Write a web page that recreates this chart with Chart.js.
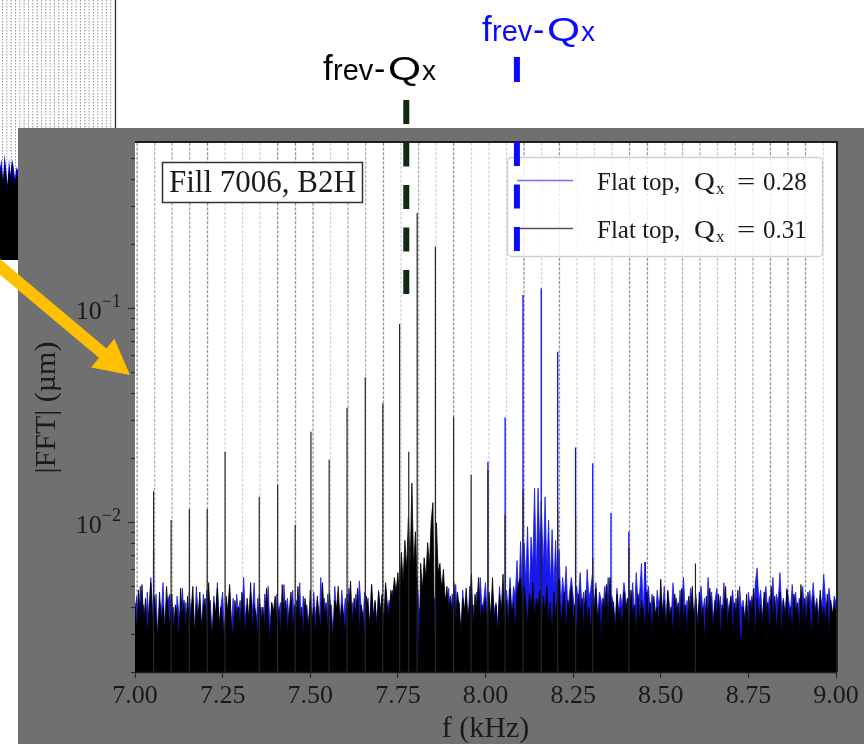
<!DOCTYPE html>
<html><head><meta charset="utf-8">
<script src="https://cdn.jsdelivr.net/npm/chart.js@4.4.1/dist/chart.umd.min.js"></script>
<style>html,body{margin:0;padding:0;background:#fff;overflow:hidden}canvas{display:block}</style>
</head><body>
<canvas id="c" width="864" height="744"></canvas>
<script>
// ---------------- DATA ----------------
// FFT bins (kHz) start and width; noise amplitudes in units of 1e-4 µm
const binStartKHz = 7.0;
const binWidthKHz = 0.005;
const noiseUnit = 1e-4;

// Flat top, Qx = 0.31 (black) noise floor, 401 bins 7.000..9.000 kHz
const blackNoise = [
42,30,48,35,51,33,44,29,39,52,31,45,36,28,47,34,40,31,50,37,
33,46,29,41,38,27,49,35,43,30,45,32,38,50,29,41,36,47,31,39,
44,30,52,36,28,42,37,49,32,40,35,27,45,38,51,33,29,43,36,40,
31,47,38,29,44,35,52,30,41,37,28,46,34,40,31,49,36,27,42,38,
45,32,39,28,51,36,43,30,38,47,29,41,35,50,33,40,28,44,37,31,
48,34,40,29,45,37,31,52,36,42,30,47,35,28,43,39,50,33,41,36,
29,46,38,53,32,44,36,49,30,41,37,28,45,40,33,51,35,43,31,47,
38,46,33,52,40,36,48,44,55,47,58,44,72,52,82,60,105,62,152,60,
90,52,20,64,48,68,55,80,62,100,123,22,99,58,64,48,60,42,50,38,
45,36,52,33,47,40,30,44,38,49,35,42,57,31,46,39,55,34,41,37,
44,30,47,36,55,33,41,29,46,38,57,35,43,31,49,37,42,30,47,52,
55,38,50,42,33,46,39,52,35,44,40,48,31,45,37,50,34,42,29,47,
36,44,54,32,40,47,30,43,38,50,33,41,29,46,37,44,31,48,35,40,
30,45,37,49,33,41,28,44,38,51,32,55,36,42,29,46,35,40,31,47,
38,44,30,48,36,41,29,46,34,43,39,31,47,35,42,28,45,37,40,33,
54,36,43,30,48,35,40,28,46,37,42,31,49,34,41,29,45,36,50,32,
44,30,47,36,40,27,45,33,49,38,31,43,35,46,28,41,37,50,32,39,
45,29,42,35,48,31,26,40,34,46,30,43,37,49,28,44,35,41,32,47,
36,42,29,50,34,45,31,39,47,28,43,35,48,33,40,30,46,37,42,29,
51,34,44,31,47,38,29,45,36,42,30,48,35,40,33,46,28,43,37,41,
38];

// Flat top, Qx = 0.28 (blue) noise floor, 401 bins
const blueNoise = [
38,45,30,50,36,41,28,47,34,55,40,32,46,29,43,37,52,31,39,44,
46,33,40,28,45,38,31,49,35,42,29,47,36,44,30,50,37,41,33,46,
31,48,37,43,29,45,35,52,33,40,47,30,42,36,49,32,44,28,46,38,
43,33,55,36,41,29,47,38,52,31,44,35,40,28,46,37,50,32,42,36,
30,46,38,42,29,51,36,44,33,40,48,31,43,35,52,30,45,38,41,34,
40,32,47,36,43,29,55,38,44,31,46,35,41,30,50,37,43,33,48,36,
44,31,49,37,42,30,46,35,53,40,32,47,38,44,30,51,36,42,34,48,
37,45,31,50,39,43,35,48,42,38,52,45,40,48,36,44,50,41,38,46,
42,55,40,36,48,45,38,50,42,46,40,44,39,47,41,52,36,45,40,49,
33,46,38,51,35,42,29,48,37,44,32,50,38,41,30,47,36,55,39,43,
52,35,45,30,47,38,42,33,50,36,44,31,48,39,55,37,50,45,66,42,
81,48,80,52,95,45,85,62,144,55,144,75,110,60,131,58,102,50,92,48,
82,45,74,40,55,44,62,38,47,55,45,38,50,42,58,40,47,36,60,44,
48,57,40,52,36,47,43,38,50,41,55,37,45,42,33,49,38,46,40,52,
44,36,48,40,52,35,58,42,47,64,38,65,44,50,37,46,41,35,48,40,
45,38,50,34,47,41,36,52,39,44,33,48,40,55,37,43,35,49,41,38,
46,35,42,50,38,44,33,55,40,47,36,43,49,38,45,34,52,39,44,37,
41,48,36,44,30,50,39,43,35,25,47,40,45,38,52,61,42,48,36,44,
50,38,45,41,55,37,46,42,58,40,44,36,49,43,38,51,40,47,35,44,
42,50,38,45,36,48,41,52,39,44,37,46,40,57,43,38,49,41,36,45,
42];

// Narrow lines (kHz, µm)
const blackSpikeF = [7.053,7.103,7.155,7.206,7.257,7.3545,7.407,7.457,7.502,7.554,7.605,7.657,7.707,7.755,7.781,7.805,7.857,7.909,7.959,8.007,8.056,8.107,8.159,8.206,8.257,8.306,8.409,8.599];
const blackSpikeA = [0.0139,0.0102,0.0115,0.0115,0.0213,0.0131,0.0149,0.0097,0.0264,0.0196,0.0342,0.0474,0.0359,0.0841,0.0213,0.278,0.193,0.031,0.0166,0.0175,0.0108,0.0141,0.0125,0.0114,0.0108,0.0068,0.0076,0.0064];
const blueSpikeF = [7.053,8.007,8.056,8.107,8.159,8.206,8.257,8.306,8.358,8.409,8.456];
const blueSpikeA = [0.0074,0.0191,0.0308,0.115,0.1236,0.0625,0.0223,0.0188,0.011,0.009,0.0065];

// 50 Hz harmonic reference lines (kHz)
const harmonicF = [7.006,7.056,7.106,7.156,7.207,7.257,7.307,7.357,7.407,7.458,
7.508,7.558,7.608,7.658,7.709,7.759,7.809,7.859,7.909,7.960,
8.010,8.060,8.110,8.160,8.211,8.261,8.311,8.361,8.411,8.462,
8.512,8.562,8.612,8.662,8.713,8.763,8.813,8.863,8.913,8.964];

// marked tune lines (kHz)
const tuneLineBlackF = 7.774;
const tuneLineBlueF = 8.0896;

// axes
const xMin = 7.0, xMax = 9.0;
const yMin = 0.00199, yMax = 0.59;
const xTickValues = [7.00,7.25,7.50,7.75,8.00,8.25,8.50,8.75,9.00];
const yTickValues = [0.1, 0.01];
const seriesQ = ['0.28', '0.31'];

// ---------------- STYLE ----------------
const harmonicShade = [0.55,0.38,0.42,0.45,0.55,0.22,0.22,0.22,0.55,0.55,
0.5,0.22,0.4,0.4,0.55,0.22,0.4,0.22,0.55,0.22,
0.22,0.22,0.55,0.22,0.55,0.22,0.22,0.25,0.55,0.55,
0.35,0.4,0.4,0.3,0.4,0.4,0.55,0.55,0.55,0.2];
const SERIF = '"Liberation Serif", "Times New Roman", serif';
const SANS = '"Liberation Sans", Arial, sans-serif';

const noisePts = arr => arr.map((v, i) => ({x: binStartKHz + i * binWidthKHz, y: v * noiseUnit}));
const spikePts = (F, A) => {
  const out = [];
  F.forEach((f, i) => { out.push({x: f, y: yMin}, {x: f, y: A[i]}, {x: f, y: null}); });
  return out;
};

const deco = {
  id: 'deco',
  beforeDraw(chart) {
    const ctx = chart.ctx, ca = chart.chartArea;
    ctx.save();
    ctx.fillStyle = '#fff'; ctx.fillRect(0, 0, 864, 744);
    // partially hidden plot behind (top-left)
    ctx.strokeStyle = 'rgba(110,110,110,0.75)'; ctx.lineWidth = 1; ctx.setLineDash([1.5, 1.5]);
    for (let x = 2.5; x < 113; x += 4.33) { ctx.beginPath(); ctx.moveTo(x, 0); ctx.lineTo(x, 260); ctx.stroke(); }
    ctx.setLineDash([]);
    ctx.strokeStyle = '#333'; ctx.lineWidth = 1.3;
    ctx.beginPath(); ctx.moveTo(115.5, 0); ctx.lineTo(115.5, 260); ctx.stroke();
    const tops = [172,160,178,158,168,182,163,175,157,170,179,165,174];
    ctx.fillStyle = '#0000e0';
    ctx.beginPath(); ctx.moveTo(0, 260);
    tops.forEach((t, i) => ctx.lineTo(i * 1.5, t - 4 + (i % 3) * 3));
    ctx.lineTo(18, 260); ctx.closePath(); ctx.fill();
    ctx.fillStyle = '#000';
    ctx.beginPath(); ctx.moveTo(0, 260);
    tops.forEach((t, i) => ctx.lineTo(i * 1.5, t + 6));
    ctx.lineTo(18, 260); ctx.closePath(); ctx.fill();
    // grey figure panel
    ctx.fillStyle = '#707070'; ctx.fillRect(18, 128, 846, 616);
    ctx.fillStyle = '#fff'; ctx.fillRect(ca.left, ca.top, ca.right - ca.left, ca.bottom - ca.top);
    ctx.restore();
  },
  beforeDatasetsDraw(chart) {
    const ctx = chart.ctx, ca = chart.chartArea, xs = chart.scales.x;
    ctx.save();
    ctx.beginPath(); ctx.rect(ca.left, ca.top, ca.right - ca.left, ca.bottom - ca.top); ctx.clip();
    ctx.lineWidth = 1.3; ctx.setLineDash([3, 1.6]);
    harmonicF.forEach((f, i) => {
      const x = xs.getPixelForValue(f);
      ctx.strokeStyle = `rgba(60,60,60,${harmonicShade[i]})`;
      ctx.beginPath(); ctx.moveTo(x, ca.top); ctx.lineTo(x, ca.bottom); ctx.stroke();
    });
    ctx.restore();
  },
  afterDatasetsDraw(chart) {
    const ctx = chart.ctx, ca = chart.chartArea, xs = chart.scales.x, ys = chart.scales.y;
    ctx.save();
    // frame
    ctx.strokeStyle = '#1e1e1e'; ctx.lineWidth = 2;
    ctx.beginPath(); ctx.moveTo(ca.left, ca.top - 1); ctx.lineTo(ca.right + 1, ca.top - 1); ctx.lineTo(ca.right + 1, ca.bottom); ctx.stroke();
    ctx.lineWidth = 1.5;
    ctx.beginPath(); ctx.moveTo(ca.left, ca.bottom + 0.5); ctx.lineTo(ca.right + 1, ca.bottom + 0.5); ctx.stroke();
    // y ticks (major + minor)
    ctx.strokeStyle = '#2a2a2a'; ctx.lineWidth = 1.2;
    for (let d = -3; d <= 0; d++) {
      for (let m = 1; m <= 9; m++) {
        const v = m * Math.pow(10, d);
        if (v < yMin || v > yMax) continue;
        const y = Math.round(ys.getPixelForValue(v)) + 0.5;
        const len = m === 1 ? 7 : 4;
        ctx.beginPath(); ctx.moveTo(ca.left - len, y); ctx.lineTo(ca.left, y); ctx.stroke();
      }
    }
    // y tick labels 10^-n
    ctx.fillStyle = '#1a1a1a'; ctx.textBaseline = 'alphabetic'; ctx.textAlign = 'left';
    yTickValues.forEach(v => {
      const e = Math.round(Math.log10(v));
      const y = ys.getPixelForValue(v);
      ctx.font = `18px ${SERIF}`;
      const sup = '\u2212' + (-e);
      const sw = ctx.measureText(sup).width;
      ctx.font = `26px ${SERIF}`;
      const mw = ctx.measureText('10').width;
      const right = 121;
      ctx.fillText('10', right - sw - mw, y + 11);
      ctx.font = `18px ${SERIF}`;
      ctx.fillText(sup, right - sw, y - 1);
    });
    // axis titles
    ctx.font = `30px ${SERIF}`; ctx.textAlign = 'center';
    ctx.fillText('f (kHz)', (ca.left + ca.right) / 2, 737);
    ctx.save();
    ctx.translate(47, (ca.top + ca.bottom) / 2); ctx.rotate(-Math.PI / 2);
    ctx.textBaseline = 'middle';
    ctx.fillText('|FFT| (\u00b5m)', 0, 0);
    ctx.restore();
    // "Fill 7006, B2H" box
    ctx.fillStyle = '#fff'; ctx.fillRect(162, 162, 201, 41);
    ctx.strokeStyle = '#333'; ctx.lineWidth = 1.5; ctx.strokeRect(162.5, 162.5, 200, 40);
    ctx.fillStyle = '#1a1a1a'; ctx.textAlign = 'left'; ctx.font = `31px ${SERIF}`;
    ctx.fillText('Fill 7006, B2H', 169, 192);
    // legend box
    ctx.fillStyle = 'rgba(255,255,255,0.82)';
    ctx.strokeStyle = '#d0d0d0'; ctx.lineWidth = 1.3;
    ctx.beginPath(); ctx.roundRect(507.5, 157.5, 315, 99, 4); ctx.fill(); ctx.stroke();
    const legColors = ['#6f6fff', '#555'];
    const legY = [180, 228];
    for (let i = 0; i < 2; i++) {
      ctx.strokeStyle = legColors[i]; ctx.lineWidth = 1.5;
      ctx.beginPath(); ctx.moveTo(517, legY[i] + 0.5); ctx.lineTo(573, legY[i] + 0.5); ctx.stroke();
      const base = legY[i] + 10;
      ctx.fillStyle = '#1a1a1a';
      ctx.font = `25px ${SERIF}`;
      ctx.fillText('Flat top,', 597, base);
      ctx.save(); ctx.translate(694, base); ctx.scale(1.15, 1); ctx.fillText('Q', 0, 0); ctx.restore();
      ctx.font = `17px ${SERIF}`;
      ctx.fillText('x', 716, base + 4);
      ctx.save(); ctx.font = `25px ${SERIF}`; ctx.translate(737, base); ctx.scale(1.3, 1); ctx.fillText('=', 0, 0); ctx.restore();
      ctx.font = `25px ${SERIF}`;
      ctx.fillText(seriesQ[i], 763, base);
    }
    // tune marker dashed lines
    ctx.lineWidth = 6; ctx.lineCap = 'butt';
    const xg = xs.getPixelForValue(tuneLineBlackF);
    ctx.strokeStyle = '#0f2b12'; ctx.setLineDash([24, 18.5]);
    ctx.beginPath(); ctx.moveTo(xg, 100); ctx.lineTo(xg, 295); ctx.stroke();
    const xb = xs.getPixelForValue(tuneLineBlueF);
    ctx.strokeStyle = '#0a0aff'; ctx.setLineDash([]);
    ctx.beginPath(); ctx.moveTo(xb, 57); ctx.lineTo(xb, 82); ctx.stroke();
    ctx.setLineDash([24, 18.5]);
    ctx.beginPath(); ctx.moveTo(xb, 142); ctx.lineTo(xb, 252); ctx.stroke();
    ctx.setLineDash([]);
    // annotation texts
    const drawLabel = (x0, base, color) => {
      ctx.fillStyle = color; ctx.textAlign = 'left';
      ctx.font = `35px ${SANS}`; ctx.fillText('f', x0, base);
      ctx.font = `29px ${SANS}`; ctx.fillText('rev', x0 + 10, base);
      ctx.font = `34px ${SANS}`; ctx.fillText('-', x0 + 51, base);
      ctx.save(); ctx.translate(x0 + 65, base); ctx.scale(1.25, 1);
      ctx.font = `34px ${SANS}`; ctx.fillText('Q', 0, 0); ctx.restore();
      ctx.font = `28px ${SANS}`; ctx.fillText('x', x0 + 99, base);
    };
    drawLabel(323, 80, '#000');
    drawLabel(482, 40.5, '#0a0aff');
    // yellow arrow
    const T = [130, 375], dx = 0.7794, dy = 0.6265, nx = -0.6265, ny = 0.7794;
    const B = [T[0] - 35 * dx, T[1] - 35 * dy], S = [-8, 266.5 - 8 * 0.8];
    ctx.fillStyle = '#ffc000';
    ctx.beginPath();
    ctx.moveTo(S[0] + 6 * nx, S[1] + 6 * ny);
    ctx.lineTo(B[0] + 6 * nx, B[1] + 6 * ny);
    ctx.lineTo(B[0] + 18.5 * nx, B[1] + 18.5 * ny);
    ctx.lineTo(T[0], T[1]);
    ctx.lineTo(B[0] - 18.5 * nx, B[1] - 18.5 * ny);
    ctx.lineTo(B[0] - 6 * nx, B[1] - 6 * ny);
    ctx.lineTo(S[0] - 6 * nx, S[1] - 6 * ny);
    ctx.closePath(); ctx.fill();
    ctx.restore();
  }
};

new Chart(document.getElementById('c'), {
  type: 'line',
  data: {
    datasets: [
      {label: 'black lines', data: spikePts(blackSpikeF, blackSpikeA), borderColor: '#262626', borderWidth: 1.2, pointRadius: 0, fill: false, spanGaps: false, order: 0},
      {label: 'Flat top, Qx = ' + seriesQ[1], data: noisePts(blackNoise), borderColor: '#000', backgroundColor: '#000', borderWidth: 0.8, fill: 'start', pointRadius: 0, order: 1},
      {label: 'blue lines', data: spikePts(blueSpikeF, blueSpikeA), borderColor: '#0a0aff', borderWidth: 1.3, pointRadius: 0, fill: false, spanGaps: false, order: 2},
      {label: 'Flat top, Qx = ' + seriesQ[0], data: noisePts(blueNoise), borderColor: '#1818e8', backgroundColor: '#1818e8', borderWidth: 0.8, fill: 'start', pointRadius: 0, order: 3}
    ]
  },
  options: {
    responsive: false, animation: false, devicePixelRatio: 1,
    layout: {padding: {top: 143, right: 28, bottom: 0, left: 0}},
    elements: {line: {tension: 0}},
    plugins: {legend: {display: false}, tooltip: {enabled: false}, title: {display: false}},
    scales: {
      x: {
        type: 'linear', min: xMin, max: xMax,
        afterBuildTicks: s => { s.ticks = xTickValues.map(v => ({value: v})); },
        afterFit: s => { s.height = 72; },
        ticks: {autoSkip: false, maxRotation: 0, padding: 3, color: '#1a1a1a', font: {family: SERIF, size: 26}, callback: v => Number(v).toFixed(2)},
        grid: {drawOnChartArea: false, drawTicks: true, tickLength: 6, tickColor: '#2a2a2a', tickWidth: 1.2},
        border: {display: false}
      },
      y: {
        type: 'logarithmic', min: yMin, max: yMax,
        afterFit: s => { s.width = 135; },
        ticks: {display: false},
        grid: {display: false},
        border: {display: false}
      }
    }
  },
  plugins: [deco]
});
</script>
</body></html>
